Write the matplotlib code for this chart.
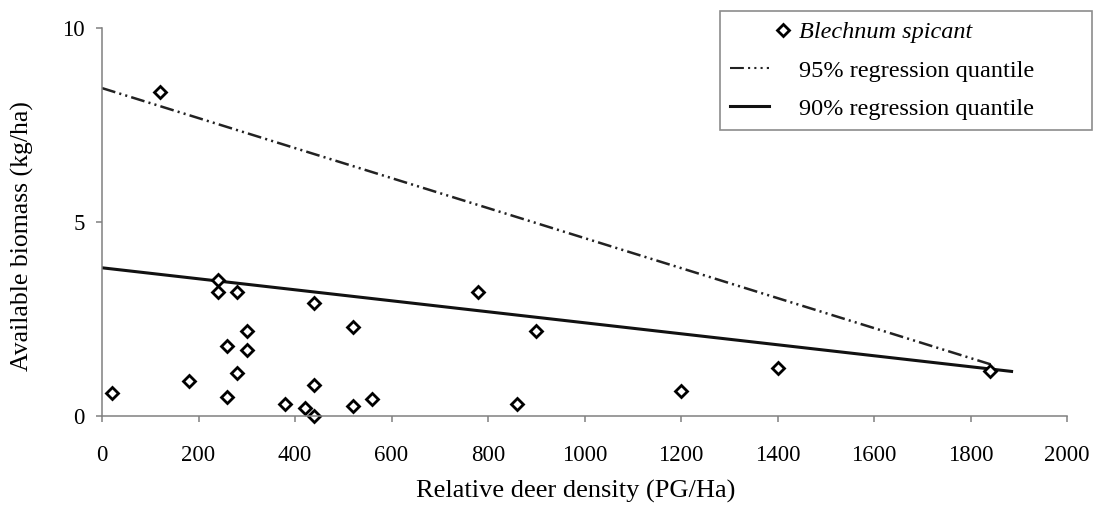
import numpy as np
import matplotlib.pyplot as plt
from matplotlib.lines import Line2D
from matplotlib.legend_handler import HandlerLine2D

plt.rcParams['font.family'] = ['Liberation Serif', 'DejaVu Serif']
plt.rcParams['lines.scale_dashes'] = False

# deer density vs biomass
density = [20, 120, 180, 240, 240, 260, 260, 280, 280, 300, 300, 380, 420, 440,
           440, 440, 520, 520, 560, 780, 860, 900, 1200, 1400, 1840]
biomass = [0.6, 8.35, 0.9, 3.5, 3.2, 1.8, 0.5, 3.2, 1.1, 2.2, 1.7, 0.3, 0.2, 2.9,
           0.8, 0.0, 2.3, 0.25, 0.45, 3.2, 0.3, 2.2, 0.65, 1.25, 1.15]

# regression quantile lines (end points)
q95_x = [0, 1850]
q95_y = [8.45, 1.3]
q90_x = [0, 1885]
q90_y = [3.82, 1.15]

xticks = [0, 200, 400, 600, 800, 1000, 1200, 1400, 1600, 1800, 2000]
yticks = [0, 5, 10]

dashdotdot = (10, 3, 1.5, 3, 1.5, 3)


class MarkerNextToText(HandlerLine2D):
    # single marker drawn just left of the label, as in the original
    def get_xdata(self, legend, xdescent, ydescent, width, height, fontsize):
        mid = width - xdescent + 0.57 * fontsize
        xdata = np.array([mid - 1, mid + 1])
        return xdata, xdata[:1]


fig = plt.figure(figsize=(10.97, 5.08), dpi=100)
ax = fig.add_axes([0.093, 0.181, 0.8797, 0.764])

ax.plot(q95_x, q95_y, color='#222222', lw=1.8, dashes=dashdotdot)
ax.plot(q90_x, q90_y, color='#111111', lw=2.2)
ax.plot(density, biomass, 'D', ms=6.5, mfc='white', mec='black', mew=2.0, clip_on=False)

ax.set_xlim(0, 2000)
ax.set_ylim(0, 10)
ax.set_xticks(xticks)
ax.set_yticks(yticks)
ax.tick_params(labelsize=16.5, direction='out', length=4.5, color='#808080', width=1.1)
ax.tick_params(axis='x', pad=16)
ax.tick_params(axis='y', pad=8)
for s in ['top', 'right']:
    ax.spines[s].set_visible(False)
for s in ['left', 'bottom']:
    ax.spines[s].set_color('#808080')
    ax.spines[s].set_linewidth(1.1)

ax.set_xlabel('Relative deer density (PG/Ha)', fontsize=19, labelpad=10)
ax.set_ylabel('Available biomass (kg/ha)', fontsize=18.5, labelpad=20)
ax.xaxis.label.set_x(0.491)
ax.yaxis.label.set_y(0.464)

pts = Line2D([], [], ls='none', marker='D', ms=6, mfc='white', mec='black', mew=2.0)
handles = [
    pts,
    Line2D([], [], color='#222222', lw=1.5, dashes=(10, 3, 1.5, 3, 1.5, 3, 1.5, 3)),
    Line2D([], [], color='#111111', lw=2.2),
]
labels = ['Blechnum spicant', '95% regression quantile', '90% regression quantile']
leg = fig.legend(handles, labels, loc='upper left',
                 bbox_to_anchor=(720 / 1097, 1 - 129 / 508, 372 / 1097, 118 / 508),
                 mode='expand', fontsize=17.5, frameon=True, fancybox=False,
                 borderaxespad=0, handlelength=1.6, borderpad=0.42, labelspacing=0.67,
                 handletextpad=1.23, handler_map={pts: MarkerNextToText()})
leg.get_frame().set_edgecolor('#707070')
leg.get_frame().set_linewidth(1.2)
leg.get_texts()[0].set_style('italic')

fig.savefig('out.png', dpi=100)
